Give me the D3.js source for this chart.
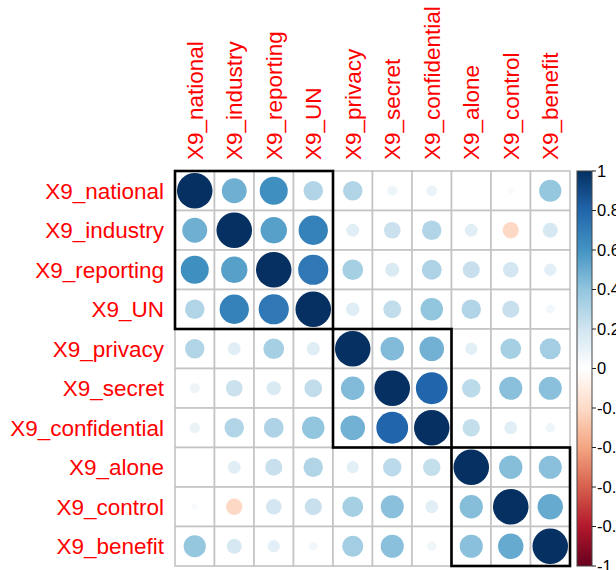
<!DOCTYPE html>
<html>
<head>
<meta charset="utf-8">
<script src="https://cdn.jsdelivr.net/npm/d3@7"></script>
<style>
  html, body { margin: 0; padding: 0; background: #fff; }
  svg { display: block; }
  text { font-family: "Liberation Sans", Arial, Helvetica, sans-serif; }
</style>
</head>
<body>
<svg id="chart" width="616" height="570"></svg>
<script>
// Variable names in hierarchical-cluster order
const variables = ["X9_national", "X9_industry", "X9_reporting", "X9_UN", "X9_privacy",
                   "X9_secret", "X9_confidential", "X9_alone", "X9_control", "X9_benefit"];

// Correlation matrix rows (symmetric)
const rowNational     = [1.00, 0.49, 0.62, 0.30, 0.30, 0.08, 0.09, 0.01, 0.03, 0.39];
const rowIndustry     = [0.49, 1.00, 0.55, 0.68, 0.13, 0.22, 0.30, 0.13, -0.21, 0.18];
const rowReporting    = [0.62, 0.55, 1.00, 0.72, 0.34, 0.16, 0.31, 0.23, 0.19, 0.12];
const rowUN           = [0.30, 0.68, 0.72, 1.00, 0.14, 0.25, 0.40, 0.30, 0.23, 0.06];
const rowPrivacy      = [0.30, 0.13, 0.34, 0.14, 1.00, 0.44, 0.48, 0.12, 0.34, 0.35];
const rowSecret       = [0.08, 0.22, 0.16, 0.25, 0.44, 1.00, 0.80, 0.27, 0.42, 0.42];
const rowConfidential = [0.09, 0.30, 0.31, 0.40, 0.48, 0.80, 1.00, 0.24, 0.13, 0.07];
const rowAlone        = [0.01, 0.13, 0.23, 0.30, 0.12, 0.27, 0.24, 1.00, 0.43, 0.42];
const rowControl      = [0.03, -0.21, 0.19, 0.23, 0.34, 0.42, 0.13, 0.43, 1.00, 0.51];
const rowBenefit      = [0.39, 0.18, 0.12, 0.06, 0.35, 0.42, 0.07, 0.42, 0.51, 1.00];

const matrixRows = [rowNational, rowIndustry, rowReporting, rowUN, rowPrivacy,
                    rowSecret, rowConfidential, rowAlone, rowControl, rowBenefit];

// Cluster blocks (first and last variable of each rectangle)
const clusterFirst = ["X9_national", "X9_privacy", "X9_alone"];
const clusterLast  = ["X9_UN", "X9_confidential", "X9_benefit"];

// Colour legend ticks
const legendTicks = [1, 0.8, 0.6, 0.4, 0.2, 0, -0.2, -0.4, -0.6, -0.8, -1];

// RdBu diverging palette stops (negative -> positive)
const paletteStops = ["#67001F", "#B2182B", "#D6604D", "#F4A582", "#FDDBC7", "#FFFFFF",
                      "#D1E5F0", "#92C5DE", "#4393C3", "#2166AC", "#053061"];

const svg = d3.select("#chart");

const gridLeft = 175, gridTop = 171, gridSize = 395;
const x = d3.scaleBand().domain(variables).range([gridLeft, gridLeft + gridSize]).padding(0);
const y = d3.scaleBand().domain(variables).range([gridTop, gridTop + gridSize]).padding(0);
const cell = x.bandwidth();

const color = d3.scaleLinear()
  .domain(d3.range(paletteStops.length).map(i => -1 + 2 * i / (paletteStops.length - 1)))
  .range(paletteStops)
  .interpolate(d3.interpolateRgb);

const cells = [];
matrixRows.forEach((row, i) => row.forEach((v, j) => {
  cells.push({ r: variables[i], c: variables[j], v });
}));

// Grid
svg.append("g").selectAll("rect").data(cells).join("rect")
  .attr("x", d => x(d.c)).attr("y", d => y(d.r))
  .attr("width", cell).attr("height", cell)
  .attr("fill", "#fff").attr("stroke", "#c4c4c4").attr("stroke-width", 1.6);

// Circles: area proportional to |r|
svg.append("g").selectAll("circle").data(cells).join("circle")
  .attr("cx", d => x(d.c) + cell / 2)
  .attr("cy", d => y(d.r) + cell / 2)
  .attr("r", d => 0.9 * Math.sqrt(Math.abs(d.v)) * cell / 2)
  .attr("fill", d => color(d.v));

// Cluster rectangles
svg.append("g").selectAll("rect")
  .data(clusterFirst.map((f, i) => ({ f, l: clusterLast[i] })))
  .join("rect")
  .attr("x", d => x(d.f)).attr("y", d => y(d.f))
  .attr("width", d => x(d.l) + cell - x(d.f))
  .attr("height", d => y(d.l) + cell - y(d.f))
  .attr("fill", "none").attr("stroke", "#000").attr("stroke-width", 2.6);

// Row labels
svg.append("g").selectAll("text").data(variables).join("text")
  .attr("x", gridLeft - 11)
  .attr("y", d => y(d) + cell / 2)
  .attr("dy", "0.35em")
  .attr("text-anchor", "end")
  .attr("fill", "#FF0000")
  .attr("font-size", 22.5)
  .text(d => d);

// Column labels (vertical)
svg.append("g").selectAll("text").data(variables).join("text")
  .attr("transform", d => `translate(${x(d) + cell / 2},${gridTop - 11}) rotate(-90)`)
  .attr("dy", "0.35em")
  .attr("text-anchor", "start")
  .attr("fill", "#FF0000")
  .attr("font-size", 22.5)
  .text(d => d);

// Colour bar
const barX = 577, barW = 15;
const legendY = d3.scaleLinear().domain([1, -1]).range([gridTop, gridTop + gridSize]);
const defs = svg.append("defs");
const grad = defs.append("linearGradient").attr("id", "cbar")
  .attr("x1", 0).attr("y1", 1).attr("x2", 0).attr("y2", 0);
d3.range(0, 201).forEach(k => {
  const v = -1 + 2 * k / 200;
  grad.append("stop").attr("offset", k / 200).attr("stop-color", color(v));
});
svg.append("rect")
  .attr("x", barX).attr("y", gridTop).attr("width", barW).attr("height", gridSize)
  .attr("fill", "url(#cbar)").attr("stroke", "#444").attr("stroke-width", 1);

const ticks = svg.append("g");
ticks.selectAll("line").data(legendTicks).join("line")
  .attr("x1", barX + barW).attr("x2", barX + barW + 4)
  .attr("y1", d => legendY(d)).attr("y2", d => legendY(d))
  .attr("stroke", "#222").attr("stroke-width", 1);
ticks.selectAll("text").data(legendTicks).join("text")
  .attr("x", barX + barW + 5)
  .attr("y", d => legendY(d))
  .attr("dy", "0.35em")
  .attr("font-size", 16.5)
  .attr("fill", "#000")
  .text(d => String(d));
</script>
</body>
</html>
